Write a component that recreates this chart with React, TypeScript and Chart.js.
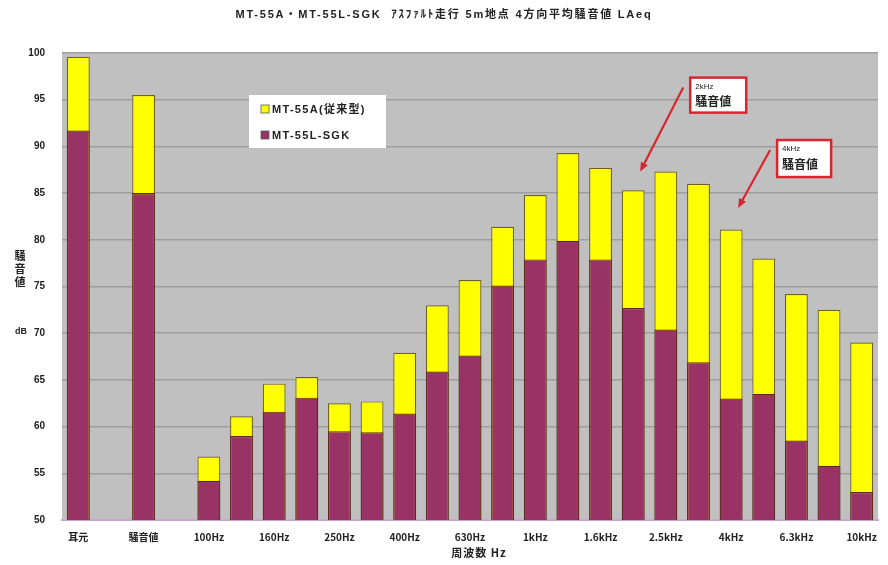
import React, { useEffect, useRef } from "react";
import { Chart, registerables } from "chart.js";

Chart.register(...registerables);

// ---- data ----
const categories = [
  "耳元", "", "騒音値", "", "100Hz", "125Hz", "160Hz", "200Hz", "250Hz", "315Hz",
  "400Hz", "500Hz", "630Hz", "800Hz", "1kHz", "1.25kHz", "1.6kHz", "2kHz",
  "2.5kHz", "3.15kHz", "4kHz", "5kHz", "6.3kHz", "8kHz", "10kHz",
];
const conventionalValues = [
  99.6, null, 95.5, null, 56.8, 61.1, 64.6, 65.3, 62.5, 62.7, 67.9, 73.0, 75.7,
  81.4, 84.8, 89.3, 87.7, 85.3, 87.3, 86.0, 81.1, 78.0, 74.2, 72.5, 69.0,
];
const sgkValues = [
  91.7, null, 85.0, null, 54.2, 59.0, 61.6, 63.1, 59.5, 59.4, 61.4, 65.9, 67.6,
  75.1, 77.9, 79.9, 77.9, 72.7, 70.4, 66.9, 63.0, 63.5, 58.5, 55.8, 53.0,
];
const seriesNames = ["MT-55A(従来型)", "MT-55L-SGK"];
const yMin = 50;
const yMax = 100;
const yStep = 5;
const titleText = "MT-55A・MT-55L-SGK  ｱｽﾌｧﾙﾄ走行 5m地点 4方向平均騒音値 LAeq";
const yTitleChars = ["騒", "音", "値"];
const yUnit = "dB";
const xTitle = "周波数 Hz";
const callouts = [
  { line1: "2kHz", line2: "騒音値", index: 17, value: 87.3 },
  { line1: "4kHz", line2: "騒音値", index: 20, value: 83.4 },
];

const FONT = '"Liberation Sans", "Noto Sans CJK JP", sans-serif';
const JFONT = '"Noto Sans CJK JP", "Liberation Sans", sans-serif';
const YELLOW = "#FFFF00";
const PURPLE = "#993366";
const TEXT = "#222222";

const decorPlugin = {
  id: "decor",
  beforeDraw(chart: any) {
    const { ctx, chartArea } = chart;
    ctx.save();
    ctx.fillStyle = "#ffffff";
    ctx.fillRect(0, 0, chart.width, chart.height);
    ctx.fillStyle = "#c0c0c0";
    ctx.fillRect(chartArea.left, chartArea.top, chartArea.right - chartArea.left, chartArea.bottom - chartArea.top);
    ctx.restore();
  },
  afterDraw(chart: any) {
    const { ctx, scales } = chart;
    const xs = scales.x;
    const ys = scales.y;
    ctx.save();
    // title
    ctx.fillStyle = TEXT;
    ctx.textAlign = "center";
    ctx.textBaseline = "middle";
    ctx.font = `bold 11px ${FONT}`;
    (ctx as any).letterSpacing = "1.8px";
    ctx.fillText(titleText, chart.width / 2, 15);
    (ctx as any).letterSpacing = "0px";

    // y title
    ctx.font = `bold 11px ${JFONT}`;
    yTitleChars.forEach((c, i) => ctx.fillText(c, 20, 256 + i * 13));
    ctx.font = `bold 9px ${FONT}`;
    ctx.fillText(yUnit, 21, 332);

    // x title
    ctx.font = `bold 11px ${JFONT}`;
    (ctx as any).letterSpacing = "1px";
    ctx.fillText(xTitle, 479, 553);
    (ctx as any).letterSpacing = "0px";

    // legend box
    const lx = 249, ly = 95, lw = 137, lh = 53;
    ctx.fillStyle = "#ffffff";
    ctx.fillRect(lx, ly, lw, lh);
    const ds = chart.data.datasets;
    ds.forEach((d: any, i: number) => {
      const cy = ly + 14 + i * 26;
      ctx.fillStyle = d.backgroundColor;
      ctx.fillRect(lx + 12, cy - 4, 8, 8);
      ctx.strokeStyle = "#555";
      ctx.lineWidth = 0.8;
      ctx.strokeRect(lx + 12, cy - 4, 8, 8);
      ctx.fillStyle = TEXT;
      ctx.textAlign = "left";
      ctx.font = `bold 11px ${FONT}`;
      (ctx as any).letterSpacing = "1.3px";
      ctx.fillText(d.label, lx + 23, cy + 1);
      (ctx as any).letterSpacing = "0px";
    });

    // callouts
    const red = "#d8262e";
    callouts.forEach((c, k) => {
      const tipX = xs.getPixelForValue(c.index) + 7;
      const tipY = ys.getPixelForValue(c.value);
      const tail = k === 0 ? { x: tipX + 43, y: tipY - 84 } : { x: tipX + 32, y: tipY - 58 };
      const box = k === 0
        ? { x: tipX + 50, y: tipY - 94, w: 56, h: 35 }
        : { x: tipX + 39, y: tipY - 68, w: 54, h: 37 };
      ctx.strokeStyle = red;
      ctx.fillStyle = red;
      ctx.lineWidth = 2.2;
      const ang = Math.atan2(tipY - tail.y, tipX - tail.x);
      const hl = 10;
      ctx.beginPath();
      ctx.moveTo(tail.x, tail.y);
      ctx.lineTo(tipX - Math.cos(ang) * hl * 0.8, tipY - Math.sin(ang) * hl * 0.8);
      ctx.stroke();
      ctx.beginPath();
      ctx.moveTo(tipX, tipY);
      ctx.lineTo(tipX - hl * Math.cos(ang - 0.4), tipY - hl * Math.sin(ang - 0.4));
      ctx.lineTo(tipX - hl * Math.cos(ang + 0.4), tipY - hl * Math.sin(ang + 0.4));
      ctx.closePath();
      ctx.fill();
      ctx.fillStyle = "#ffffff";
      ctx.fillRect(box.x, box.y, box.w, box.h);
      ctx.strokeStyle = red;
      ctx.lineWidth = 2.5;
      ctx.strokeRect(box.x, box.y, box.w, box.h);
      ctx.fillStyle = TEXT;
      ctx.textAlign = "left";
      ctx.font = `8px ${FONT}`;
      ctx.fillText(c.line1, box.x + 5, box.y + 9);
      ctx.font = `bold 12px ${JFONT}`;
      ctx.fillText(c.line2, box.x + 5, box.y + 24);
    });
    ctx.restore();
  },
};

export default function App() {
  const ref = useRef<HTMLCanvasElement | null>(null);
  useEffect(() => {
    if (!ref.current) return;
    const chart = new Chart(ref.current, {
      type: "bar",
      data: {
        labels: categories,
        datasets: [
          {
            label: seriesNames[0],
            data: conventionalValues,
            backgroundColor: YELLOW,
            borderColor: "#6e6020",
            borderWidth: 1.2,
            grouped: false,
            order: 1,
            barPercentage: 0.7,
            categoryPercentage: 1,
          },
          {
            label: seriesNames[1],
            data: sgkValues,
            backgroundColor: PURPLE,
            borderColor: "#5a2a20",
            borderWidth: 1.2,
            grouped: false,
            order: 0,
            barPercentage: 0.7,
            categoryPercentage: 1,
          },
        ] as any,
      },
      options: {
        responsive: false,
        animation: false,
        layout: { padding: { top: 53, right: 10, left: 0, bottom: 0 } },
        plugins: {
          legend: { display: false },
          title: { display: false },
          tooltip: { enabled: false },
        },
        scales: {
          x: {
            grid: { display: false },
            border: { display: true, color: "#c9a6c9", width: 2 },
            ticks: {
              autoSkip: false,
              maxRotation: 0,
              padding: 3,
              color: TEXT,
              font: { family: JFONT, size: 10, weight: "bold" },
              callback: (_v: any, i: number) => (i % 2 === 0 ? categories[i] : ""),
            },
            afterFit: (s: any) => { s.height = 45; },
          },
          y: {
            min: yMin,
            max: yMax,
            grid: { color: "#9e9e9e", lineWidth: 1.5, drawTicks: false },
            border: { display: false },
            ticks: {
              stepSize: yStep,
              padding: 17,
              color: TEXT,
              font: { family: FONT, size: 10, weight: "bold" },
            },
            afterFit: (s: any) => { s.width = 62; },
          },
        },
      } as any,
      plugins: [decorPlugin],
    });
    return () => chart.destroy();
  }, []);
  return (
    <div style={{ position: "absolute", left: 0, top: 0, width: 888, height: 565 }}>
      <canvas ref={ref} width={888} height={565} />
    </div>
  );
}
